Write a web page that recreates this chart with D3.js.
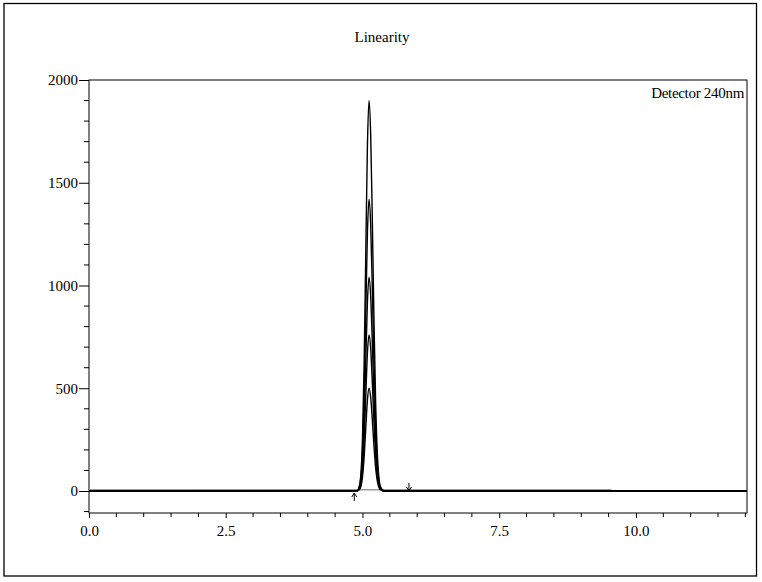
<!DOCTYPE html>
<html><head><meta charset="utf-8">
<script src="https://cdn.jsdelivr.net/npm/d3@7/dist/d3.min.js"></script>
<style>body{margin:0;background:#fff}svg{display:block}svg text{font-family:'Liberation Serif','Times New Roman','DejaVu Serif',serif !important;fill:#000}</style>
</head><body><svg id="c" width="762" height="582"></svg>
<script>
// ---- data ----
const title = "Linearity";
const detectorLabel = "Detector 240nm";
const xTicks = [0, 2.5, 5.0, 7.5, 10.0];
const xTickLabels = ["0.0", "2.5", "5.0", "7.5", "10.0"];
const yTicks = [0, 500, 1000, 1500, 2000];
const times = [0, 4.90, 4.95, 5.00, 5.03, 5.06, 5.09, 5.12, 5.15, 5.18, 5.21, 5.24, 5.28, 5.33, 5.40, 12.03];
const level1 = [0, 1, 9, 68, 163, 304, 441, 500, 456, 347, 219, 115, 37, 6, 0, 0];
const level2 = [0, 1, 14, 103, 247, 461, 670, 760, 693, 527, 333, 175, 55, 8, 0, 0];
const level3 = [0, 1, 19, 140, 338, 631, 917, 1040, 948, 721, 456, 239, 76, 11, 0, 0];
const level4 = [0, 1, 26, 192, 462, 862, 1252, 1420, 1295, 984, 622, 327, 104, 16, 0, 0];
const level5 = [0, 2, 34, 257, 618, 1153, 1676, 1900, 1733, 1317, 832, 437, 139, 21, 0, 0];
const blankTimes = [0, 9.55];
const blankValues = [6, 6];
const markerStart = 4.85;  // integration start (up arrow)
const markerEnd = 5.85;    // integration end (down arrow)

// ---- layout ----
const FONT = "'Liberation Serif','Times New Roman','DejaVu Serif',serif";
const svg = d3.select("#c");
const L = 89, R = 747, T = 80, B = 513;
const x = d3.scaleLinear().domain([0, 12.03]).range([L, R]);
const y = d3.scaleLinear().domain([-107, 2000]).range([B, T]);

svg.append("rect").attr("x", 4).attr("y", 3.5).attr("width", 752.5).attr("height", 572.5)
  .attr("fill", "none").attr("stroke", "#000").attr("stroke-width", 1.3);

svg.append("text").attr("x", 382).attr("y", 42).attr("text-anchor", "middle")
  .attr("font-family", FONT).attr("font-size", 15).text(title);

// plot frame
svg.append("rect").attr("x", L).attr("y", T).attr("width", R - L).attr("height", B - T)
  .attr("fill", "none").attr("stroke", "#000").attr("stroke-width", 1);

// x axis
const xAxis = d3.axisBottom(x).tickValues(xTicks).tickSize(5)
  .tickFormat((d, i) => xTickLabels[i]);
const gx = svg.append("g").attr("transform", `translate(0,${B})`).call(xAxis)
  .attr("font-family", FONT).attr("font-size", 15);
gx.select(".domain").remove();
gx.selectAll("text").attr("dy", "1.0em");
const xMinor = d3.range(0.5, 12.01, 0.5).filter(v => Math.abs(v / 2.5 - Math.round(v / 2.5)) > 1e-6);
svg.append("g").selectAll("line").data(xMinor).join("line")
  .attr("x1", d => x(d)).attr("x2", d => x(d)).attr("y1", B).attr("y2", B + 4)
  .attr("stroke", "#000");

// y axis
const yAxis = d3.axisLeft(y).tickValues(yTicks).tickSize(10).tickFormat(d3.format("d"));
const gy = svg.append("g").attr("transform", `translate(${L},0)`).call(yAxis)
  .attr("font-family", FONT).attr("font-size", 15);
gy.select(".domain").remove();
gy.selectAll("text").attr("x", -11);
const yMinor = d3.range(-100, 2000, 100).filter(v => v % 500 !== 0);
svg.append("g").selectAll("line").data(yMinor).join("line")
  .attr("x1", L - 5).attr("x2", L).attr("y1", d => y(d)).attr("y2", d => y(d))
  .attr("stroke", "#000");

svg.append("text").attr("x", 744).attr("y", 98).attr("text-anchor", "end")
  .attr("font-family", FONT).attr("font-size", 15).attr("letter-spacing", -0.3).text(detectorLabel);

// traces
svg.append("clipPath").attr("id", "pc").append("rect")
  .attr("x", L).attr("y", T).attr("width", R - L).attr("height", B - T);
const line = d3.line().x(d => x(d[0])).y(d => y(d[1])).curve(d3.curveMonotoneX);
const traces = svg.append("g").attr("clip-path", "url(#pc)");
traces.append("path").datum(blankTimes.map((t, i) => [t, blankValues[i]]))
  .attr("d", line).attr("fill", "none").attr("stroke", "#999").attr("stroke-width", 1.5);
[level1, level2, level3, level4, level5].forEach(vals => {
  traces.append("path").datum(times.map((t, i) => [t, vals[i]]))
    .attr("d", line).attr("fill", "none").attr("stroke", "#000").attr("stroke-width", 1.4);
});

// integration markers
function arrow(t, up) {
  const g = svg.append("g").attr("stroke", "#000").attr("fill", "none").attr("stroke-width", 1);
  const xx = x(t);
  if (up) {
    const y0 = y(0) + 2, y1 = y(0) + 10;
    g.append("line").attr("x1", xx).attr("x2", xx).attr("y1", y0).attr("y2", y1);
    g.append("path").attr("d", `M${xx - 2.5},${y0 + 4}L${xx},${y0}L${xx + 2.5},${y0 + 4}`);
  } else {
    const y0 = y(0) - 8, y1 = y(0);
    g.append("line").attr("x1", xx).attr("x2", xx).attr("y1", y0).attr("y2", y1);
    g.append("path").attr("d", `M${xx - 2.5},${y1 - 4}L${xx},${y1}L${xx + 2.5},${y1 - 4}`);
  }
}
arrow(markerStart, true);
arrow(markerEnd, false);
</script></body></html>
